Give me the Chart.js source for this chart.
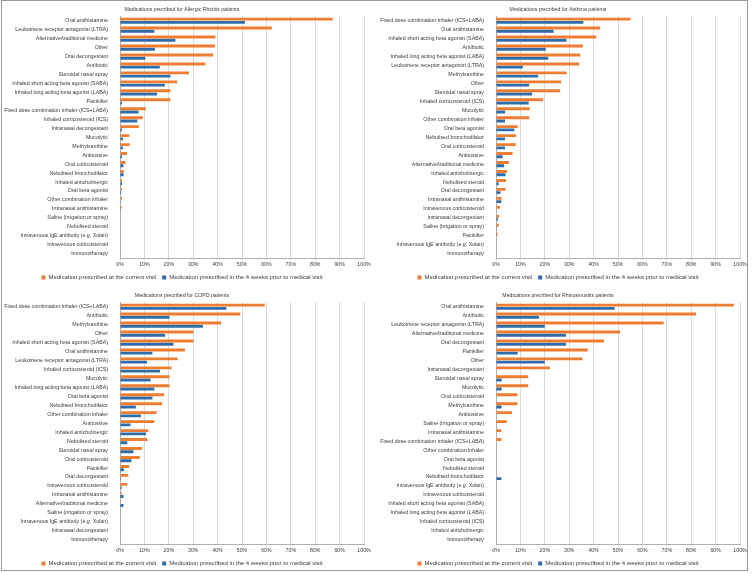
<!DOCTYPE html>
<html>
<head>
<meta charset="utf-8">
<script src="https://cdn.jsdelivr.net/npm/chart.js@4"></script>
<style>
  body { margin: 0; background: #fff; }
  #wrap { position: relative; width: 752px; height: 573px; }
  #frame { position: absolute; left: 1px; top: 0; width: 747px; height: 571px; border: 1px solid #9a9a9a; box-sizing: border-box; }
  canvas { position: absolute; }
</style>
</head>
<body>
<div id="wrap">
  <div id="frame"></div>
  <canvas id="c1" width="376" height="287" style="left:0;top:0"></canvas>
  <canvas id="c2" width="376" height="287" style="left:376px;top:0"></canvas>
  <canvas id="c3" width="376" height="287" style="left:0;top:286px"></canvas>
  <canvas id="c4" width="376" height="287" style="left:376px;top:286px"></canvas>
</div>
<script>
const ORANGE = "#ed7d31";
const BLUE = "#2e6daa";
const seriesNames = ["Medication prescribed at the current visit", "Medication prescribed in the 4 weeks prior to medical visit"];
const xTicks = [0, 10, 20, 30, 40, 50, 60, 70, 80, 90, 100];

/* Allergic rhinitis */
const arTitle = "Medications precribed for Allergic Rhinitis patients";
const arLabels = ["Oral antihistamine","Leukotriene receptor antagonist (LTRA)","Alternative/traditional medicine","Other","Oral decongestant","Antibiotic","Steroidal nasal spray","Inhaled short acting beta agonist (SABA)","Inhaled long acting beta agonist (LABA)","Painkiller","Fixed dose combination inhaler (ICS+LABA)","Inhaled corticosteroid (ICS)","Intranasal decongestant","Mucolytic","Methylxanthine","Antitussive","Oral corticosteroid","Nebulised bronchodilator","Inhaled anticholinergic","Oral beta agonist","Other combination inhaler","Intranasal antihistamine","Saline (irrigation or spray)","Nebulised steroid","Intravenous IgE antibody (e.g. Xolair)","Intravenous corticosteroid","Immunotherapy"];
const arCurrent = [87.2,62.2,39.1,38.9,38.2,35.0,28.3,23.4,20.7,20.7,10.6,9.3,7.7,3.8,4.0,2.9,2.3,1.5,0.8,0.8,0.8,0.7,0.3,0.3,0,0,0];
const arPrior = [51.2,14.1,22.7,14.3,10.4,16.3,20.7,18.4,15.2,0.8,7.6,7.1,0.8,1.2,1.2,0.8,1.4,1.5,0.8,0.5,0.3,0.3,0,0,0,0,0];

/* Asthma */
const asTitle = "Medications precribed for Asthma patients";
const asLabels = ["Fixed dose combination inhaler (ICS+LABA)","Oral antihistamine","Inhaled short acting beta agonist (SABA)","Antibiotic","Inhaled long acting beta agonist (LABA)","Leukotriene receptor antagonist (LTRA)","Methylxanthine","Other","Steroidal nasal spray","Inhaled corticosteroid (ICS)","Mucolytic","Other combination inhaler","Oral beta agonist","Nebulised bronchodilator","Oral corticosteroid","Antitussive","Alternative/traditional medicine","Inhaled anticholinergic","Nebulised steroid","Oral decongestant","Intranasal antihistamine","Intravenous corticosteroid","Intranasal decongestant","Saline (irrigation or spray)","Painkiller","Intravenous IgE antibody (e.g. Xolair)","Immunotherapy"];
const asCurrent = [55.1,42.7,41.1,35.6,34.5,34.1,29.0,26.7,26.3,19.3,13.8,13.6,8.9,8.2,8.1,6.8,5.3,4.5,4.1,3.9,2.3,1.6,1.2,1.1,0.7,0,0];
const asPrior = [35.8,23.6,28.9,20.4,21.4,11.0,17.3,13.6,14.8,13.4,3.7,3.7,7.5,3.7,3.7,2.7,3.3,3.9,1.1,1.8,2.2,0,0.7,0.3,0,0,0];

/* COPD */
const coTitle = "Medications precribed for COPD patients";
const coLabels = ["Fixed dose combination inhaler (ICS+LABA)","Antibiotic","Methylxanthine","Other","Inhaled short acting beta agonist (SABA)","Oral antihistamine","Leukotriene receptor antagonist (LTRA)","Inhaled corticosteroid (ICS)","Mucolytic","Inhaled long acting beta agonist (LABA)","Oral beta agonist","Nebulised bronchodilator","Other combination inhaler","Antitussive","Inhaled anticholinergic","Nebulised steroid","Steroidal nasal spray","Oral corticosteroid","Painkiller","Oral decongestant","Intravenous corticosteroid","Intranasal antihistamine","Alternative/traditional medicine","Saline (irrigation or spray)","Intravenous IgE antibody (e.g. Xolair)","Intranasal decongestant","Immunotherapy"];
const coCurrent = [59.3,49.3,41.5,30.1,30.1,26.6,23.6,21.1,20.3,20.3,18.1,17.3,15.0,14.1,11.6,11.2,9.0,8.1,3.8,3.4,3.0,0.7,0.4,0,0,0,0];
const coPrior = [43.6,20.3,34.0,18.5,21.9,13.3,11.1,16.4,12.5,14.1,13.3,6.5,8.6,4.3,10.7,3.0,5.5,4.7,1.6,0.4,0.7,1.4,1.4,0,0,0.3,0];

/* Rhinosinusitis */
const rsTitle = "Medications precribed for Rhinosinusitis patients";
const rsLabels = ["Oral antihistamine","Antibiotic","Leukotriene receptor antagonist (LTRA)","Alternative/traditional medicine","Oral decongestant","Painkiller","Other","Intranasal decongestant","Steroidal nasal spray","Mucolytic","Oral corticosteroid","Methylxanthine","Antitussive","Saline (irrigation or spray)","Intranasal antihistamine","Fixed dose combination inhaler (ICS+LABA)","Other combination inhaler","Oral beta agonist","Nebulised steroid","Nebulised bronchodilator","Intravenous IgE antibody (e.g. Xolair)","Intravenous corticosteroid","Inhaled short acting beta agonist (SABA)","Inhaled long acting beta agonist (LABA)","Inhaled corticosteroid (ICS)","Inhaled anticholinergic","Immunotherapy"];
const rsCurrent = [97.5,82.0,68.7,50.9,44.3,37.6,35.4,22.1,13.2,13.2,8.8,8.8,6.6,4.4,2.2,2.2,0,0,0,0,0,0,0,0,0,0,0];
const rsPrior = [48.6,17.6,20.0,28.7,28.7,8.9,20.0,0,2.3,2.3,0,2.3,0,0,0,0,0,0,0,2.2,0,0,0,0,0,0,0];

const FONT = "'Liberation Sans', Arial, sans-serif";
const TEXT = "#3a3a3a";

function makeChart(id, title, labels, current, prior) {
  return new Chart(document.getElementById(id), {
    type: "bar",
    data: {
      labels: labels,
      datasets: [
        { label: seriesNames[0], data: current, backgroundColor: ORANGE, barPercentage: 0.9, categoryPercentage: 0.72 },
        { label: seriesNames[1], data: prior, backgroundColor: BLUE, barPercentage: 0.9, categoryPercentage: 0.72 }
      ]
    },
    options: {
      indexAxis: "y",
      responsive: false,
      animation: false,
      // negative bottom padding lets the legend sit low without squeezing the plot
      layout: { padding: { top: 1, right: 12, bottom: -3.5, left: 0 } },
      plugins: {
        title: {
          display: true,
          text: title,
          color: TEXT,
          font: { family: FONT, size: 5.2, weight: "normal" },
          padding: { top: 5, bottom: 4 }
        },
        legend: {
          position: "bottom",
          labels: {
            boxWidth: 4,
            boxHeight: 4,
            color: TEXT,
            padding: 6,
            font: { family: FONT, size: 6 }
          }
        },
        tooltip: { enabled: false }
      },
      scales: {
        x: {
          min: 0,
          max: 100,
          afterBuildTicks: s => { s.ticks = xTicks.map(v => ({ value: v })); },
          ticks: {
            callback: v => v + "%",
            color: TEXT,
            padding: 1,
            maxRotation: 0,
            font: { family: FONT, size: 5.2 }
          },
          grid: { color: "#d9d9d9", tickLength: 2 },
          border: { color: "#b0b0b0" }
        },
        y: {
          afterFit: s => { s.width = 120; },
          grid: { display: false },
          border: { color: "#b0b0b0" },
          ticks: {
            autoSkip: false,
            color: TEXT,
            padding: 4,
            font: { family: FONT, size: 5.3 }
          }
        }
      }
    }
  });
}

makeChart("c1", arTitle, arLabels, arCurrent, arPrior);
makeChart("c2", asTitle, asLabels, asCurrent, asPrior);
makeChart("c3", coTitle, coLabels, coCurrent, coPrior);
makeChart("c4", rsTitle, rsLabels, rsCurrent, rsPrior);
</script>
</body>
</html>
